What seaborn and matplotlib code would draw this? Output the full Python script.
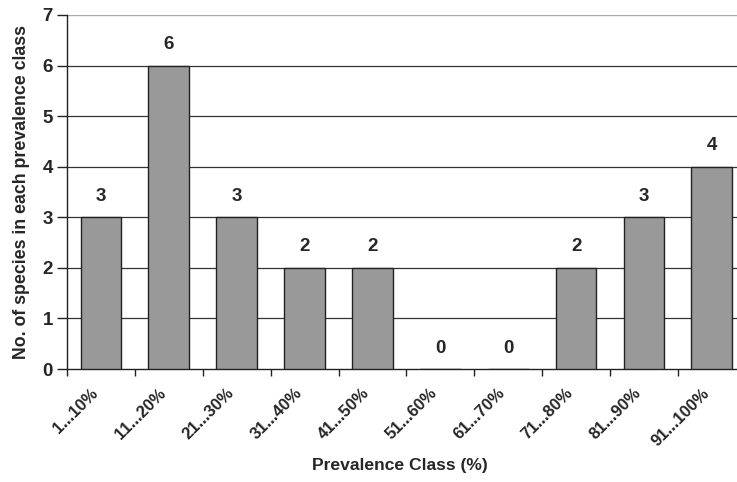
import matplotlib
matplotlib.use("Agg")
import matplotlib.pyplot as plt
import numpy as np
import seaborn as sns

classes = ["1...10%", "11...20%", "21...30%", "31...40%", "41...50%",
           "51...60%", "61...70%", "71...80%", "81...90%", "91...100%"]
counts = [3, 6, 3, 2, 2, 0, 0, 2, 3, 4]

sns.set_style("white")
plt.rcParams['font.family'] = ['Liberation Sans', 'DejaVu Sans']
plt.rcParams['font.weight'] = 'bold'

fig = plt.figure(figsize=(7.37, 4.82), dpi=100)
ax = fig.add_axes([0.0909, 0.2344, 0.921, 0.7346])

sns.barplot(x=classes, y=counts, color="#999999", edgecolor="#222222",
            linewidth=1.0, width=0.6, saturation=1, ax=ax, zorder=3)

# horizontal grid
for v in range(1, 7):
    ax.axhline(v, color="#333333", lw=0.9, zorder=1)
ax.axhline(7, color="#aaaaaa", lw=1.0, zorder=1)

ax.set_ylim(0, 7)
ax.set_xlim(-0.5, len(classes) - 0.5)
ax.set_yticks(range(0, 8))
ax.tick_params(axis="y", which="major", direction="out", length=7, width=1,
               color="#222222", labelsize=13.5, pad=3, left=True)

# x ticks at the category boundaries, labels at the centres
ax.set_xticks(np.arange(-0.5, len(classes) + 0.5, 1))
ax.set_xticklabels([])
ax.set_xticks(np.arange(len(classes)), minor=True)
ax.set_xticklabels(classes, minor=True, rotation=45, ha="right", fontsize=12,
                   fontweight="bold")
ax.tick_params(axis="x", which="major", direction="out", length=5, width=1,
               color="#222222", bottom=True)
ax.tick_params(axis="x", which="minor", length=0, pad=12)

for lab in ax.get_yticklabels():
    lab.set_fontweight("bold")

sns.despine(ax=ax, top=True, right=True)
ax.spines["left"].set_color("#222222")
ax.spines["bottom"].set_color("#222222")
ax.spines["left"].set_linewidth(1)
ax.spines["bottom"].set_linewidth(1)

ax.bar_label(ax.containers[0], labels=[str(c) for c in counts], padding=9,
             fontsize=13.5, fontweight="bold")

ax.set_ylabel("No. of species in each prevalence class", fontsize=12.8,
              fontweight="bold")
ax.yaxis.set_label_coords(-0.054, 0.5)
ax.set_xlabel("Prevalence Class (%)", fontsize=12.6, fontweight="bold")
ax.xaxis.set_label_coords(0.49, -0.25)

fig.savefig("out.png", dpi=100)
